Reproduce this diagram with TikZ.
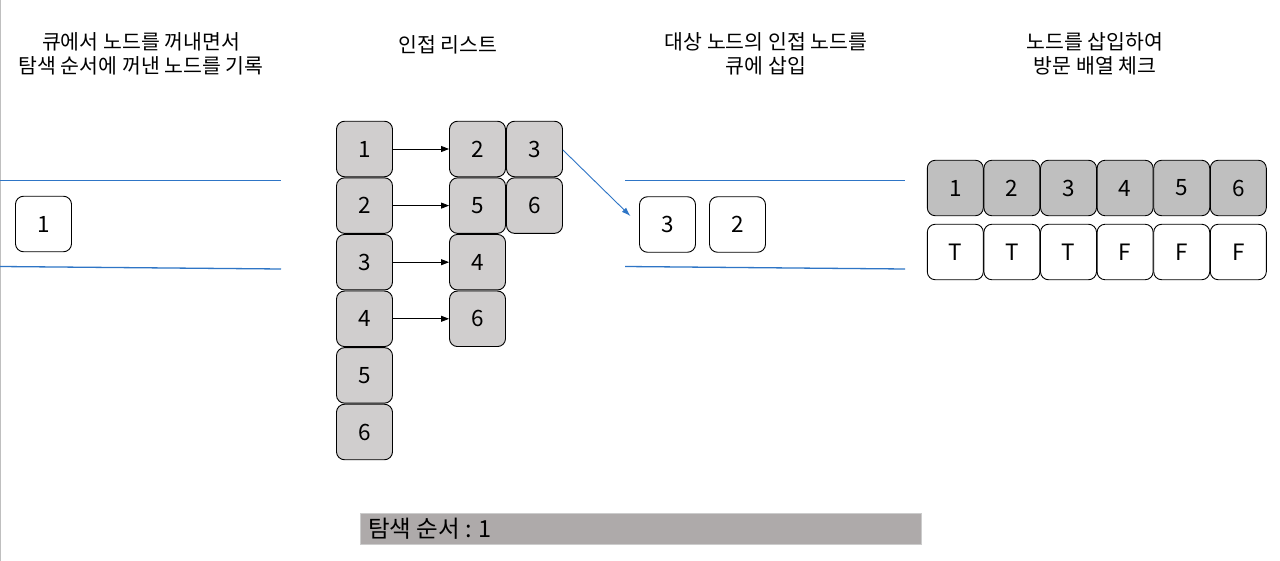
\documentclass[tikz,border=0pt]{standalone}
\usepackage{fontspec}
\setmainfont{Noto Sans CJK KR}
\usetikzlibrary{arrows.meta,positioning}
\definecolor{qblue}{HTML}{2E75C6}
\definecolor{adjgray}{HTML}{D0CECE}
\definecolor{arrgray}{HTML}{BFBFBF}
\definecolor{bargray}{HTML}{AEAAAA}
\tikzset{
  cell/.style={draw=black, line width=0.9pt, rounded corners=8pt, minimum width=56pt, minimum height=55.5pt, inner sep=0pt, font=\fontsize{22.5}{26}\selectfont, text=black},
  adjcell/.style={cell, fill=adjgray},
  arrcell/.style={cell, fill=arrgray},
  qcell/.style={cell, fill=white},
  title/.style={align=center, font=\fontsize{20.5}{24}\selectfont, text=black},
  qline/.style={draw=qblue, line width=1.3pt},
  adjarrow/.style={draw=black, line width=0.8pt, -{Triangle[length=8pt,width=6pt]}},
}
\begin{document}
\begin{tikzpicture}[x=1pt,y=-1pt]
\useasboundingbox (0,0) rectangle (1280,561);
\fill[white] (0,0) rectangle (1280,561);
\draw[gray!50, line width=1.2pt] (0.6,0) -- (0.6,561);

% titles
\node[title] (t1) at (141,54) {큐에서 노드를 꺼내면서\\탐색 순서에 꺼낸 노드를 기록};
\node[title] (t2) at (448,45) {인접 리스트};
\node[title] (t3) at (766,54) {대상 노드의 인접 노드를\\큐에 삽입};
\node[title] (t4) at (1095,54) {노드를 삽입하여\\방문 배열 체크};

% left queue
\coordinate (lq1) at (0,180.5);
\coordinate (lq2) at (281,180.5);
\coordinate (lq3) at (0,266.5);
\coordinate (lq4) at (281,269);
\draw[qline] (lq1) -- (lq2);
\draw[qline] (lq3) -- (lq4);
\node[qcell] (q1) at (43.5,224) {1};

% adjacency list
\node[adjcell] (a1) at (364.5,149) {1};
\node[adjcell] (a2) at (364.5,205.6) {2};
\node[adjcell] (a3) at (364.5,262.2) {3};
\node[adjcell] (a4) at (364.5,318.8) {4};
\node[adjcell] (a5) at (364.5,375.4) {5};
\node[adjcell] (a6) at (364.5,432) {6};

\node[adjcell] (b12) at (477.5,149) {2};
\node[adjcell] (b13) at (534.5,149) {3};
\node[adjcell] (b25) at (477.5,205.6) {5};
\node[adjcell] (b26) at (534.5,205.6) {6};
\node[adjcell] (b34) at (477.5,262.2) {4};
\node[adjcell] (b46) at (477.5,318.8) {6};

\draw[adjarrow] (a1) -- (b12);
\draw[adjarrow] (a2) -- (b25);
\draw[adjarrow] (a3) -- (b34);
\draw[adjarrow] (a4) -- (b46);

% middle queue
\coordinate (mq1) at (625,180.5);
\coordinate (mq2) at (905,180.5);
\coordinate (mq3) at (625,266.5);
\coordinate (mq4) at (905,269);
\draw[qline] (mq1) -- (mq2);
\draw[qline] (mq3) -- (mq4);
\node[qcell] (m3) at (667.5,224.5) {3};
\node[qcell] (m2) at (737.5,224.5) {2};

\draw[draw=qblue, line width=0.9pt, shorten >=12pt, -{Latex[length=9pt,width=6pt]}] (b13.east) ++(0,1) coordinate (bs) (bs) -- (m3.west);

% visited array
\foreach \i/\v/\t in {1/1/T,2/2/T,3/3/T,4/4/F,5/5/F,6/6/F}{
  \node[arrcell] (v\i) at ({927+28.3+(\i-1)*56.6},188) {\v};
  \node[qcell] (w\i) at ({927+28.3+(\i-1)*56.6},252) {\t};
}

% bottom bar
\node[draw=gray!40, line width=0.6pt, fill=bargray, minimum width=561pt, minimum height=31pt, inner sep=0pt, anchor=north west] (bar) at (360,513) {};
\node[anchor=west, font=\fontsize{23.5}{26}\selectfont, text=black, inner sep=0pt] (bartext) at (368,528.5) {탐색 순서 : 1};
\end{tikzpicture}
\end{document}
